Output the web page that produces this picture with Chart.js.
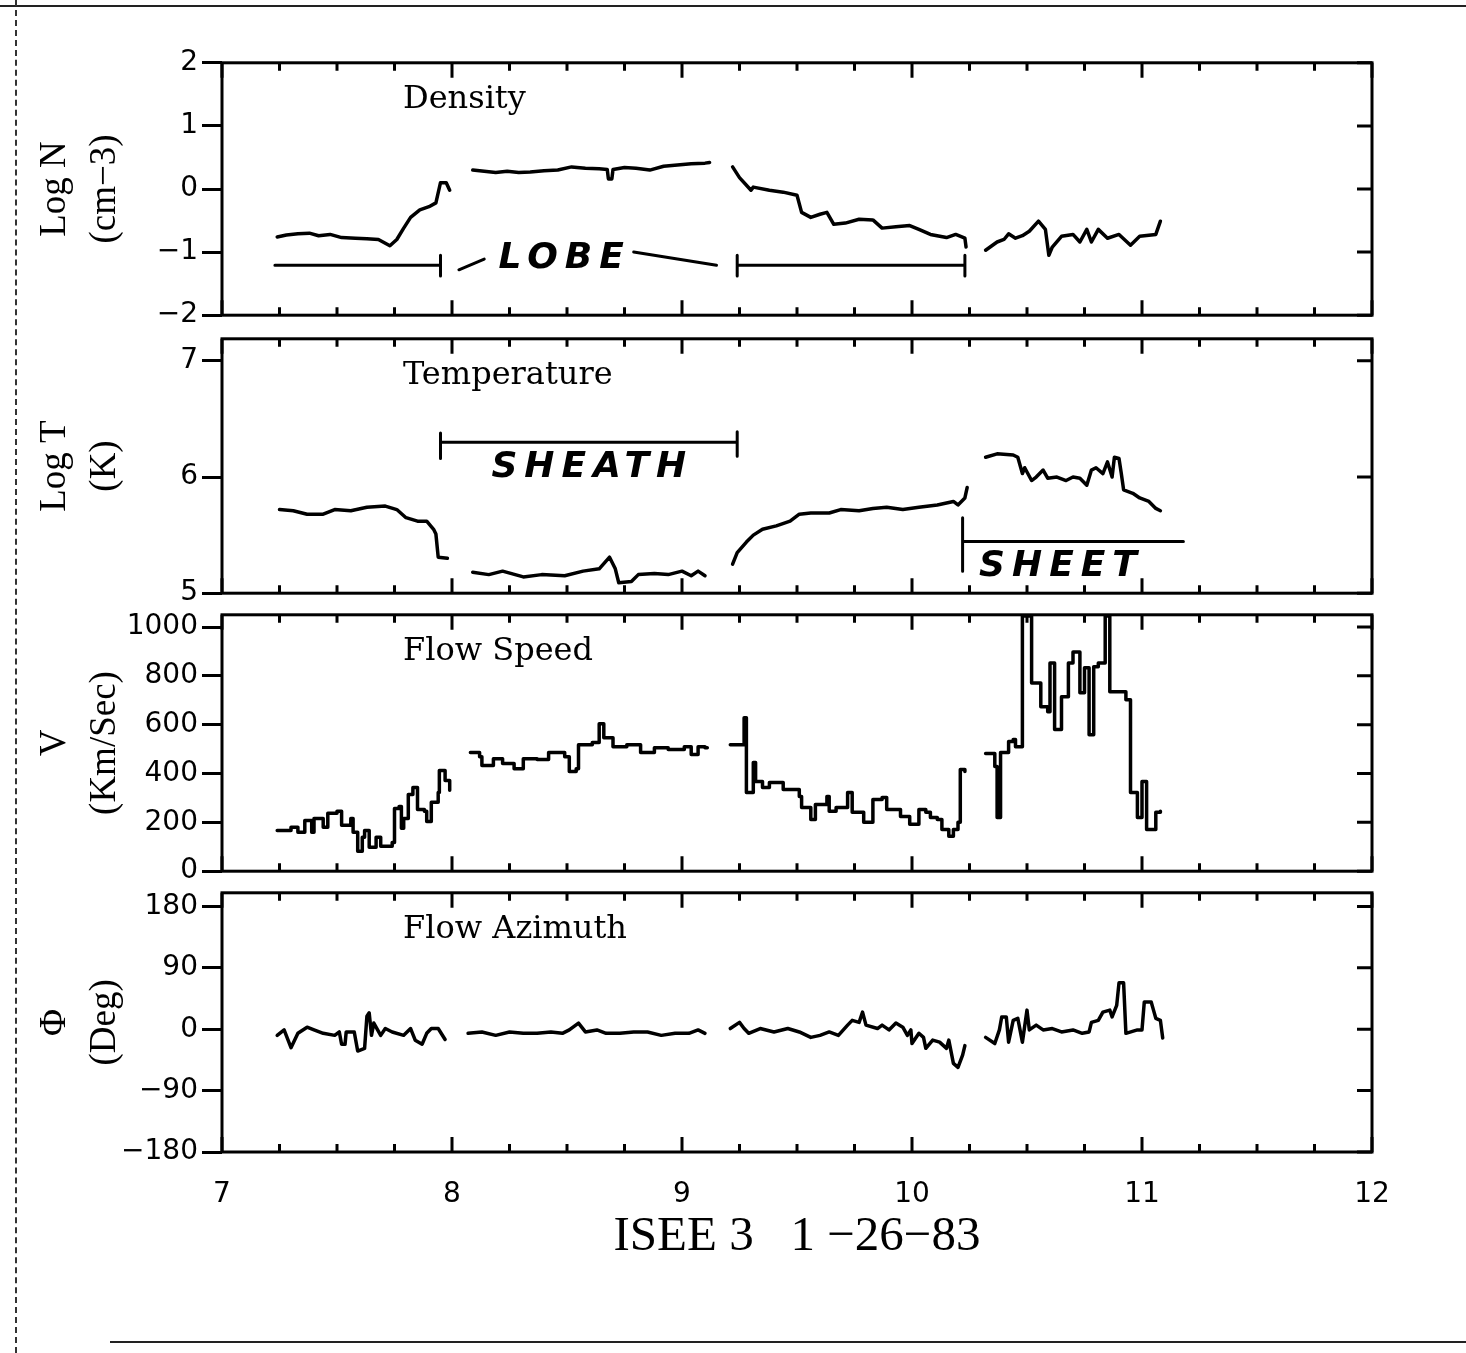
<!DOCTYPE html>
<html>
<head>
<meta charset="utf-8">
<script src="https://cdn.jsdelivr.net/npm/chart.js@4.4.1/dist/chart.umd.min.js"></script>
<style>
  body { margin: 0; background: #fff; }
  #page { position: relative; width: 1466px; height: 1353px; overflow: hidden; background: #fff; }
  canvas { position: absolute; left: 0; }
  .edge { position: absolute; }
</style>
</head>
<body>
<div id="page">
  <div class="edge" style="left:0;top:5px;width:1466px;border-top:2px solid #222"></div>
  <div class="edge" style="left:15px;top:0;height:1353px;border-left:2px dashed #333"></div>
  <div class="edge" style="left:110px;top:1341px;width:1356px;border-top:2px solid #222"></div>
  <canvas id="densityChart"></canvas>
  <canvas id="tempChart"></canvas>
  <canvas id="speedChart"></canvas>
  <canvas id="azimuthChart"></canvas>
</div>
<script>
// ISEE 3, 26 Jan 1983 - hours of day on x, gaps are null

const densityHours = [7.24, 7.28, 7.33, 7.38, 7.42, 7.47, 7.52, 7.58, 7.63, 7.68, 7.73, 7.76, 7.79, 7.82, 7.86, 7.90, 7.93, 7.95, 7.975, 7.99,
    8.04,
    8.09, 8.14, 8.19, 8.24, 8.29, 8.34, 8.40, 8.46, 8.52, 8.58, 8.64, 8.675, 8.68, 8.695, 8.70, 8.75, 8.80, 8.86, 8.92, 8.98, 9.04, 9.10, 9.12,
    9.17,
    9.22, 9.25, 9.30, 9.31, 9.38, 9.44, 9.50, 9.52, 9.56, 9.60, 9.63, 9.66, 9.71, 9.77, 9.83, 9.87, 9.93, 9.99, 10.03, 10.08, 10.15, 10.19, 10.23, 10.235,
    10.28,
    10.32, 10.37, 10.40, 10.42, 10.45, 10.48, 10.51, 10.55, 10.58, 10.595, 10.61, 10.65, 10.70, 10.73, 10.76, 10.78, 10.81, 10.85, 10.90, 10.95, 10.99, 11.06, 11.08]
const densityLogN = [-0.76, -0.73, -0.71, -0.70, -0.74, -0.72, -0.77, -0.78, -0.79, -0.80, -0.90, -0.80, -0.62, -0.45, -0.33, -0.28, -0.22, 0.10, 0.10, -0.02,
    null,
    0.30, 0.28, 0.26, 0.28, 0.26, 0.27, 0.29, 0.30, 0.35, 0.33, 0.32, 0.31, 0.16, 0.16, 0.31, 0.34, 0.33, 0.30, 0.36, 0.38, 0.40, 0.41, 0.42,
    null,
    0.35, 0.18, -0.02, 0.03, -0.02, -0.05, -0.10, -0.37, -0.45, -0.40, -0.37, -0.56, -0.54, -0.48, -0.49, -0.62, -0.60, -0.58, -0.64, -0.72, -0.77, -0.72, -0.78, -0.92,
    null,
    -0.97, -0.84, -0.80, -0.71, -0.78, -0.74, -0.67, -0.51, -0.64, -1.05, -0.92, -0.75, -0.72, -0.84, -0.64, -0.84, -0.64, -0.78, -0.72, -0.89, -0.75, -0.72, -0.51]

const tempHours = [7.25, 7.31, 7.37, 7.44, 7.49, 7.56, 7.63, 7.71, 7.76, 7.80, 7.85, 7.89, 7.92, 7.93, 7.94, 7.98,
    8.03,
    8.09, 8.16, 8.22, 8.31, 8.39, 8.49, 8.57, 8.64, 8.685, 8.71, 8.725, 8.78, 8.81, 8.88, 8.94, 9.00, 9.04, 9.07, 9.10,
    9.16,
    9.22, 9.24, 9.28, 9.31, 9.35, 9.41, 9.47, 9.51, 9.56, 9.64, 9.69, 9.77, 9.83, 9.89, 9.96, 10.03, 10.11, 10.18, 10.20, 10.23, 10.24,
    10.28,
    10.32, 10.37, 10.44, 10.46, 10.48, 10.49, 10.52, 10.54, 10.57, 10.59, 10.63, 10.67, 10.70, 10.73, 10.76, 10.78, 10.80, 10.83, 10.85, 10.87, 10.88, 10.90, 10.91, 10.92, 10.96, 10.99, 11.03, 11.06, 11.08]
const tempLogT = [5.72, 5.71, 5.68, 5.68, 5.72, 5.71, 5.74, 5.75, 5.72, 5.65, 5.62, 5.62, 5.55, 5.51, 5.31, 5.30,
    null,
    5.18, 5.16, 5.19, 5.14, 5.16, 5.15, 5.19, 5.21, 5.31, 5.21, 5.09, 5.10, 5.16, 5.17, 5.16, 5.19, 5.15, 5.19, 5.15,
    null,
    5.25, 5.35, 5.44, 5.50, 5.55, 5.58, 5.62, 5.68, 5.69, 5.69, 5.72, 5.71, 5.73, 5.74, 5.72, 5.74, 5.76, 5.79, 5.76, 5.82, 5.91,
    null,
    6.17, 6.20, 6.19, 6.17, 6.03, 6.08, 5.97, 6.00, 6.06, 5.99, 6.00, 5.97, 6.00, 5.99, 5.93, 6.06, 6.08, 6.03, 6.13, 6.00, 6.17, 6.16, 6.03, 5.89, 5.86, 5.82, 5.79, 5.73, 5.71]

const speedHours = [7.24, 7.30, 7.33, 7.36, 7.39, 7.40, 7.44, 7.46, 7.50, 7.52, 7.56, 7.57, 7.59, 7.61, 7.62, 7.64, 7.67, 7.69, 7.74, 7.75, 7.77, 7.78, 7.79, 7.81, 7.83, 7.85, 7.88, 7.89, 7.91, 7.94, 7.945, 7.97, 7.99,
    8.04,
    8.08, 8.12, 8.13, 8.18, 8.22, 8.27, 8.31, 8.37, 8.42, 8.49, 8.51, 8.54, 8.55, 8.61, 8.64, 8.66, 8.70, 8.76, 8.82, 8.88, 8.94, 9.01, 9.04, 9.07, 9.10, 9.11,
    9.16,
    9.21, 9.26, 9.27, 9.28, 9.30, 9.31, 9.32, 9.35, 9.38, 9.44, 9.51, 9.52, 9.56, 9.58, 9.63, 9.64, 9.67, 9.72, 9.74, 9.79, 9.83, 9.87, 9.89, 9.95, 9.99, 10.03, 10.06, 10.08, 10.11, 10.13, 10.16, 10.18, 10.20, 10.21, 10.23,
    10.28,
    10.32, 10.36, 10.37, 10.385, 10.42, 10.44, 10.45, 10.48, 10.52, 10.56, 10.59, 10.60, 10.62, 10.65, 10.68, 10.70, 10.73, 10.75, 10.77, 10.79, 10.81, 10.84, 10.86, 10.89, 10.93, 10.95, 10.98, 11.00, 11.02, 11.06, 11.08]
const speedV = [167, 180, 159, 208, 159, 216, 180, 237, 245, 188, 216, 159, 82, 139, 167, 98, 139, 102, 118, 257, 265, 176, 216, 314, 343, 253, 245, 204, 282, 322, 412, 371, 331,
    null,
    486, 469, 433, 461, 441, 420, 461, 457, 486, 469, 408, 420, 518, 527, 604, 547, 510, 518, 486, 506, 498, 510, 478, 510, 506, 506,
    null,
    518, 518, 628, 322, 322, 445, 367, 343, 363, 335, 306, 261, 212, 273, 306, 245, 261, 322, 241, 200, 294, 302, 253, 224, 192, 253, 241, 220, 212, 171, 143, 171, 200, 416, 408,
    null,
    482, 429, 220, 486, 531, 539, 510, 1045, 771, 673, 653, 853, 580, 714, 853, 898, 731, 833, 559, 837, 853, 1045, 735, 735, 702, 322, 220, 367, 171, 241, 245]

const azimuthHours = [7.24, 7.27, 7.30, 7.33, 7.37, 7.40, 7.44, 7.49, 7.51, 7.52, 7.535, 7.54, 7.575, 7.59, 7.62, 7.63, 7.64, 7.65, 7.66, 7.69, 7.71, 7.74, 7.79, 7.82, 7.84, 7.87, 7.89, 7.91, 7.94, 7.97,
    8.02,
    8.07, 8.13, 8.19, 8.25, 8.31, 8.37, 8.43, 8.48, 8.51, 8.55, 8.58, 8.63, 8.67, 8.73, 8.79, 8.85, 8.91, 8.97, 9.03, 9.07, 9.10,
    9.16,
    9.21, 9.25, 9.27, 9.29, 9.34, 9.40, 9.46, 9.51, 9.56, 9.60, 9.64, 9.68, 9.72, 9.74, 9.77, 9.785, 9.80, 9.85, 9.87, 9.90, 9.93, 9.96, 9.98, 9.995, 10.00, 10.03, 10.05, 10.06, 10.09, 10.12, 10.15, 10.16, 10.18, 10.20, 10.22, 10.23,
    10.28,
    10.32, 10.36, 10.38, 10.39, 10.41, 10.42, 10.44, 10.46, 10.48, 10.50, 10.51, 10.54, 10.57, 10.61, 10.65, 10.70, 10.74, 10.77, 10.78, 10.81, 10.83, 10.86, 10.87, 10.89, 10.90, 10.92, 10.93, 10.98, 11.00, 11.01, 11.04, 11.05, 11.06, 11.08, 11.09]
const azimuthPhi = [-9, -1, -27, -6, 3, -1, -6, -9, -4, -22, -22, -4, -4, -32, -28, 19, 24, -9, 9, -9, 1, -4, -9, 1, -16, -22, -6, 1, 1, -15,
    null,
    -6, -4, -9, -4, -6, -6, -4, -6, -1, 9, -4, -1, -6, -6, -4, -4, -9, -6, -6, -1, -6,
    null,
    1, 10, 1, -6, 1, -4, 1, -4, -12, -9, -4, -9, 6, 13, 10, 25, 6, 1, 6, -1, 9, 3, -9, -1, -21, -6, -12, -28, -16, -19, -28, -16, -50, -56, -38, -24,
    null,
    -12, -21, -1, 18, 18, -19, 13, 16, -19, 28, -1, 6, -1, 1, -4, -1, -6, -4, 10, 13, 25, 28, 18, 35, 68, 68, -6, -1, -1, 40, 40, 28, 16, 13, -13]

const LEFT = 222
const RIGHT = 1372
const X_TITLE_BOTTOM = 1300

function minusSign(v) {
    return String(v).replace('-', '\u2212')
}

// box, inward ticks on top / bottom / right, panel name
function makeFramePlugin(name) {
    return {
        id: 'frame',
        afterDatasetsDraw(chart) {
            const ctx = chart.ctx
            const a = chart.chartArea
            const x = chart.scales.x
            const y = chart.scales.y
            ctx.save()
            ctx.strokeStyle = '#000'
            ctx.lineWidth = 3
            ctx.lineCap = 'butt'
            ctx.strokeRect(a.left, a.top, a.right - a.left, a.bottom - a.top)
            ctx.beginPath()
            y.ticks.forEach(t => {
                const py = y.getPixelForValue(t.value)
                ctx.moveTo(a.right - 15, py)
                ctx.lineTo(a.right, py)
            })
            for (let h = 7; h <= 12.001; h += 0.25) {
                const px = x.getPixelForValue(h)
                const len = Math.abs(h - Math.round(h)) < 0.01 ? 15 : 8
                ctx.moveTo(px, a.top)
                ctx.lineTo(px, a.top + len)
                ctx.moveTo(px, a.bottom)
                ctx.lineTo(px, a.bottom - len)
            }
            ctx.stroke()
            ctx.fillStyle = '#000'
            ctx.font = '32px "DejaVu Serif"'
            ctx.textBaseline = 'middle'
            ctx.textAlign = 'left'
            ctx.fillText(name, a.left + 181, a.top + 37)
            ctx.restore()
        }
    }
}

// region brackets and their labels, in data coordinates
function makeNotesPlugin(lines, labels) {
    return {
        id: 'notes',
        afterDatasetsDraw(chart) {
            const ctx = chart.ctx
            const x = chart.scales.x
            const y = chart.scales.y
            ctx.save()
            ctx.strokeStyle = '#000'
            ctx.fillStyle = '#000'
            ctx.lineWidth = 3
            ctx.lineCap = 'round'
            ctx.beginPath()
            lines.forEach(s => {
                ctx.moveTo(x.getPixelForValue(s[0]), y.getPixelForValue(s[1]))
                ctx.lineTo(x.getPixelForValue(s[2]), y.getPixelForValue(s[3]))
            })
            ctx.stroke()
            ctx.font = 'bold italic 36px "DejaVu Sans"'
            ctx.letterSpacing = '7px'
            ctx.textAlign = 'center'
            ctx.textBaseline = 'middle'
            labels.forEach(l => ctx.fillText(l[0], x.getPixelForValue(l[1]), y.getPixelForValue(l[2])))
            ctx.restore()
        }
    }
}

function makePanel(id, p) {
    const canvas = document.getElementById(id)
    const showX = !!p.xTitle
    const top = p.top - 20
    const height = showX ? X_TITLE_BOTTOM - top : p.bottom - p.top + 40
    canvas.width = 1466
    canvas.height = height
    canvas.style.top = top + 'px'

    new Chart(canvas, {
        type: 'line',
        data: {
            datasets: [{
                data: p.hours.map((h, i) => ({ x: h, y: p.values[i] })),
                borderColor: '#000',
                borderWidth: 3.5,
                pointRadius: 0,
                stepped: p.stepped || false,
                spanGaps: false,
                borderJoinStyle: 'round',
                borderCapStyle: 'round'
            }]
        },
        options: {
            responsive: false,
            animation: false,
            events: [],
            layout: { padding: { left: 20, right: 1466 - RIGHT, top: 20, bottom: showX ? 0 : 20 } },
            plugins: { legend: { display: false }, tooltip: { enabled: false } },
            scales: {
                x: {
                    type: 'linear',
                    min: 7,
                    max: 12,
                    display: showX,
                    afterFit: s => { s.height = showX ? X_TITLE_BOTTOM - p.bottom : 0 },
                    grid: { display: false, drawTicks: false },
                    border: { display: false },
                    ticks: { stepSize: 1, padding: 26, color: '#000', font: { family: 'DejaVu Sans', size: 28 } },
                    title: {
                        display: showX,
                        text: p.xTitle || '',
                        color: '#000',
                        font: { family: 'Liberation Serif', size: 49 },
                        padding: { top: 0, bottom: 33 }
                    }
                },
                y: {
                    min: p.min,
                    max: p.max,
                    afterFit: s => { s.width = LEFT - 20 },
                    grid: { drawOnChartArea: false, drawTicks: true, tickLength: 20, color: '#000', lineWidth: 3 },
                    border: { display: false },
                    ticks: {
                        stepSize: p.step,
                        includeBounds: false,
                        padding: 4,
                        color: '#000',
                        font: { family: 'DejaVu Sans', size: 28 },
                        callback: minusSign
                    },
                    title: {
                        display: true,
                        text: p.yTitle,
                        color: '#000',
                        font: { family: 'Liberation Serif', size: 37, lineHeight: 1.35 },
                        padding: { top: 10, bottom: 0 }
                    }
                }
            }
        },
        plugins: [makeFramePlugin(p.name), makeNotesPlugin(p.lines || [], p.labels || [])]
    })
}

makePanel('densityChart', {
    name: 'Density', top: 62, bottom: 316, min: -2, max: 2, step: 1,
    hours: densityHours, values: densityLogN, yTitle: ['Log N', '(cm\u22123)'],
    lines: [
        [7.23, -1.21, 7.95, -1.21], [7.95, -1.05, 7.95, -1.38],
        [8.03, -1.28, 8.14, -1.11],
        [8.79, -1.0, 9.15, -1.21],
        [9.24, -1.21, 10.23, -1.21], [9.24, -1.05, 9.24, -1.38], [10.23, -1.05, 10.23, -1.38]
    ],
    labels: [['LOBE', 8.49, -1.11]]
})

makePanel('tempChart', {
    name: 'Temperature', top: 338, bottom: 594, min: 5, max: 7.19, step: 1,
    hours: tempHours, values: tempLogT, yTitle: ['Log T', '(K)'],
    lines: [
        [7.95, 6.30, 9.24, 6.30], [7.95, 6.38, 7.95, 6.16], [9.24, 6.39, 9.24, 6.18],
        [10.22, 5.65, 10.22, 5.19], [10.22, 5.445, 11.18, 5.445]
    ],
    labels: [['SHEATH', 8.61, 6.08], ['SHEET', 10.65, 5.23]]
})

makePanel('speedChart', {
    name: 'Flow Speed', top: 614, bottom: 872, min: 0, max: 1050, step: 200, stepped: true,
    hours: speedHours, values: speedV, yTitle: ['V', '(Km/Sec)']
})

makePanel('azimuthChart', {
    name: 'Flow Azimuth', top: 892, bottom: 1152, min: -180, max: 200, step: 90,
    hours: azimuthHours, values: azimuthPhi, yTitle: ['\u03A6', '(Deg)'],
    xTitle: 'ISEE 3   1 \u221226\u221283'
})
</script>
</body>
</html>
